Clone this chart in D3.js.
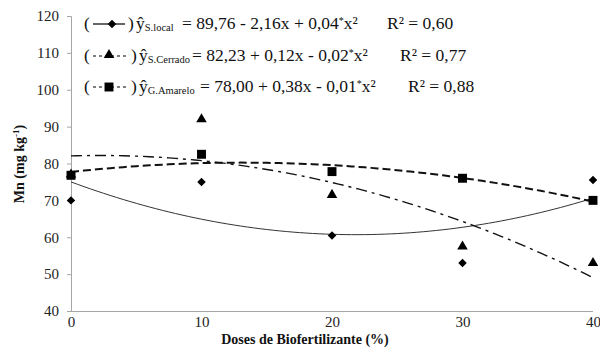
<!DOCTYPE html>
<html>
<head>
<meta charset="utf-8">
<script src="https://cdn.jsdelivr.net/npm/d3@7"></script>
<style>
  body { margin: 0; background: #fff; }
  svg { display: block; }
</style>
</head>
<body>
<div id="chart"></div>
<script>
var doses = [0, 10, 20, 30, 40];
var sLocal = [70, 75, 60.5, 53, 75.5];
var sCerrado = [77, 92, 71.5, 57.5, 53];
var gAmarelo = [76.8, 82.5, 77.8, 76, 70];
var yTicks = [40, 50, 60, 70, 80, 90, 100, 110, 120];
var xTicks = [0, 10, 20, 30, 40];

var subs = ['S.local', 'S.Cerrado', 'G.Amarelo'];
var eqs = ['= 89,76 - 2,16x + 0,04', '= 82,23 + 0,12x - 0,02', '= 78,00 + 0,38x - 0,01'];
var r2s = ['R² = 0,60', 'R² = 0,77', 'R² = 0,88'];

var FONT = '"Liberation Serif", "Times New Roman", serif';
var width = 600, height = 352;
var svg = d3.select('#chart').append('svg').attr('width', width).attr('height', height);

var x = d3.scaleLinear().domain([0, 40]).range([71, 593]);
var y = d3.scaleLinear().domain([40, 120]).range([311, 16]);

// axes
var yAxis = svg.append('g').attr('transform', 'translate(71,0)')
  .call(d3.axisLeft(y).tickValues(yTicks).tickSize(4).tickPadding(8));
var xAxis = svg.append('g').attr('transform', 'translate(0,311)')
  .call(d3.axisBottom(x).tickValues(xTicks).tickSize(0).tickPadding(5));
[yAxis, xAxis].forEach(function (a) {
  a.attr('font-family', FONT).attr('font-size', 15);
  a.select('.domain').attr('stroke', '#a6a6a6');
  a.selectAll('.tick line').attr('stroke', '#a6a6a6');
  a.selectAll('text').attr('fill', '#222');
});
yAxis.select('.domain').attr('d', 'M-4,16.5H0.5V311');
xAxis.select('.domain').attr('d', 'M71,0.5H593');

svg.append('text').attr('x', 305).attr('y', 344).attr('text-anchor', 'middle')
  .style('font-family', FONT).style('font-size', '14px').style('font-weight', 'bold')
  .attr('fill', '#111').text('Doses de Biofertilizante (%)');

var yt = svg.append('text').attr('transform', 'translate(24,164) rotate(-90)')
  .attr('text-anchor', 'middle').style('font-family', FONT)
  .style('font-size', '14px').style('font-weight', 'bold').attr('fill', '#111');
yt.append('tspan').text('Mn (mg kg');
yt.append('tspan').attr('dy', -5).style('font-size', '9px').text('-1');
yt.append('tspan').attr('dy', 5).text(')');

// quadratic least squares fit
function quadFit(xs, ys) {
  var s = [0, 0, 0, 0, 0], t = [0, 0, 0];
  xs.forEach(function (xv, i) {
    for (var k = 0; k < 5; k++) s[k] += Math.pow(xv, k);
    for (var j = 0; j < 3; j++) t[j] += ys[i] * Math.pow(xv, j);
  });
  var A = [[s[0], s[1], s[2], t[0]], [s[1], s[2], s[3], t[1]], [s[2], s[3], s[4], t[2]]];
  for (var c = 0; c < 3; c++) {
    for (var r = c + 1; r < 3; r++) {
      var f = A[r][c] / A[c][c];
      for (var q = c; q < 4; q++) A[r][q] -= f * A[c][q];
    }
  }
  var b = [0, 0, 0];
  for (var r2 = 2; r2 >= 0; r2--) {
    var v = A[r2][3];
    for (var q2 = r2 + 1; q2 < 3; q2++) v -= A[r2][q2] * b[q2];
    b[r2] = v / A[r2][r2];
  }
  return function (xv) { return b[0] + b[1] * xv + b[2] * xv * xv; };
}

var series = [
  { vals: sLocal, dash: null, w: 1, color: '#333', shape: d3.symbolSquare, size: 36, rot: 45 },
  { vals: sCerrado, dash: '11,5,3,5', w: 1.4, color: '#111', shape: d3.symbolTriangle, size: 48, rot: 0 },
  { vals: gAmarelo, dash: '8,4', w: 2, color: '#111', shape: d3.symbolSquare, size: 80, rot: 0 }
];

var line = d3.line().x(function (d) { return x(d[0]); }).y(function (d) { return y(d[1]); });
var xs = d3.range(0, 40.01, 0.5);

series.forEach(function (s) {
  var f = quadFit(doses, s.vals);
  svg.append('path').datum(xs.map(function (v) { return [v, f(v)]; }))
    .attr('d', line).attr('fill', 'none').attr('stroke', s.color)
    .attr('stroke-width', s.w).attr('stroke-dasharray', s.dash);
});

series.forEach(function (s) {
  svg.selectAll(null).data(s.vals).enter().append('path')
    .attr('d', d3.symbol().type(s.shape).size(s.size))
    .attr('transform', function (d, i) {
      return 'translate(' + x(doses[i]) + ',' + y(d) + ') rotate(' + s.rot + ')';
    })
    .attr('fill', '#000');
});

// legend
var rowsY = [29, 61, 92];
var eqX = [182, 192, 200];
var r2X = [387, 400, 408];
series.forEach(function (s, i) {
  var g = svg.append('g').attr('transform', 'translate(0,' + rowsY[i] + ')')
    .style('font-family', FONT).style('font-size', '17.5px').attr('fill', '#111');
  g.append('text').attr('x', 84).attr('y', 0).text('(');
  var lx1 = i === 0 ? 125 : 127;
  g.append('line').attr('x1', 93).attr('x2', lx1).attr('y1', -5).attr('y2', -5)
    .attr('stroke', '#000').attr('stroke-width', 1.2)
    .attr('stroke-dasharray', i === 0 ? null : '3,3');
  g.append('path').attr('d', d3.symbol().type(s.shape).size(s.size))
    .attr('transform', 'translate(' + (i === 0 ? 112 : 109) + ',' + (i === 1 ? -6 : -5) + ') rotate(' + s.rot + ')')
    .attr('fill', '#000');
  g.append('text').attr('x', i === 0 ? 128 : 131).attr('y', 0).text(')');
  var t = g.append('text').attr('x', i === 0 ? 136 : 139).attr('y', 0);
  t.append('tspan').text('ŷ');
  t.append('tspan').attr('dy', 2).style('font-size', '10.5px').text(subs[i]);
  t.append('tspan').attr('x', eqX[i]).attr('dy', -2).text(eqs[i]);
  t.append('tspan').attr('dy', -5).style('font-size', '10px').text('*');
  t.append('tspan').attr('dy', 5).text('x²');
  g.append('text').attr('x', r2X[i]).attr('y', 0).text(r2s[i]);
});
</script>
</body>
</html>
